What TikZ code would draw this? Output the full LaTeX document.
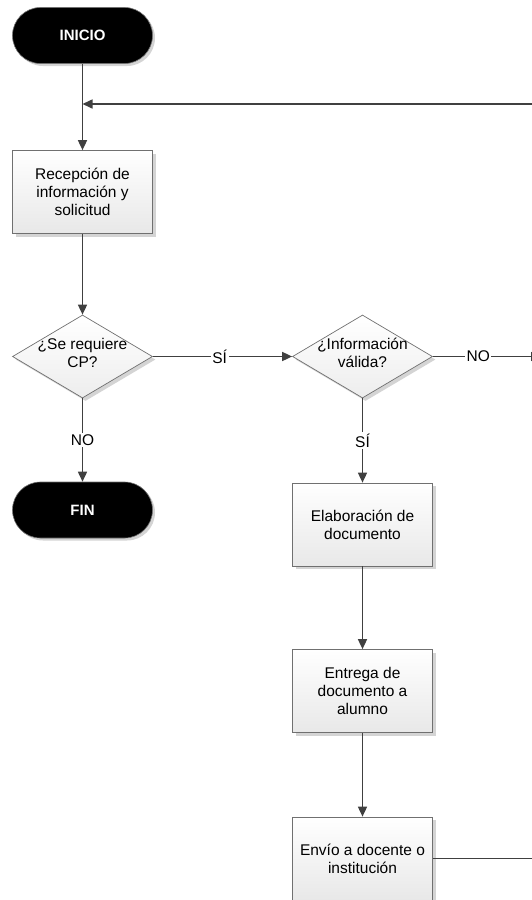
\documentclass[tikz,border=0pt]{standalone}
\usepackage{fontspec}
\setmainfont{Liberation Sans}
\usetikzlibrary{shapes.geometric,shadows,arrows.meta}
\definecolor{linegray}{HTML}{404040}
\definecolor{boxgray}{HTML}{707070}
\definecolor{shadowgray}{HTML}{D4D4D4}
\begin{document}
\begin{tikzpicture}[x=1pt,y=-1pt,
  txt/.style={font=\fontsize{15.5}{18}\selectfont},
  conn/.style={draw=linegray, line width=1.6pt, -{Triangle[length=10pt,width=9pt]}},
  plain/.style={draw=linegray, line width=1.6pt},
  term/.style={draw=boxgray, line width=0.6pt, fill=black, rounded corners=28pt,
    minimum width=140pt, minimum height=56pt, inner sep=0pt, text=white,
    font=\bfseries\fontsize{15}{18}\selectfont,
    drop shadow={shadow xshift=2.5pt, shadow yshift=-2.5pt, fill=shadowgray, opacity=1}},
  proc/.style={rectangle, draw=boxgray, line width=0.7pt, top color=white, bottom color=black!9,
    minimum width=140pt, minimum height=83pt, inner sep=0pt, align=center, txt,
    drop shadow={shadow xshift=3pt, shadow yshift=-3pt, fill=shadowgray, opacity=1}},
  dec/.style={diamond, draw=boxgray, line width=0.7pt, top color=white, bottom color=black!7,
    minimum width=140pt, minimum height=83pt, inner sep=0pt,
    drop shadow={shadow xshift=3pt, shadow yshift=-3pt, fill=shadowgray, opacity=1}},
  dectext/.style={align=center, txt, inner sep=0pt, yshift=4pt},
  lab/.style={fill=white, inner sep=1.5pt, txt}
]
\clip (0,0) rectangle (532,900);

\node[term] (start) at (82.5,35.5) {INICIO};
\node[proc] (rec) at (82.5,192) {Recepción de\\información y\\solicitud};
\node[dec, label={[dectext]center:¿Se requiere\\CP?}] (d1) at (82.5,356.5) {};
\node[term] (fin) at (82.5,510) {FIN};
\node[dec, label={[dectext]center:¿Información\\válida?}] (d2) at (362.5,356.5) {};
\node[proc] (ela) at (362.5,524.5) {Elaboración de\\documento};
\node[proc] (ent) at (362.5,691) {Entrega de\\documento a\\alumno};
\node[proc] (env) at (362.5,858.5) {Envío a docente o\\institución};

\coordinate (loopin) at (82.5,104);
\coordinate (loopR) at (545,104);
\coordinate (noR) at (541,356.5);
\coordinate (envR) at (545,858.5);

\draw[conn] (start) -- (rec);
\draw[conn] (loopR) -- (loopin);
\draw[conn] (rec) -- (d1);
\draw[conn] (d1) -- node[lab, pos=0.48]{SÍ} (d2);
\draw[conn] (d2) -- node[lab, pos=0.42]{NO} (noR);
\draw[conn] (d1) -- node[lab]{NO} (fin);
\draw[conn] (d2) -- node[lab]{SÍ} (ela);
\draw[conn] (ela) -- (ent);
\draw[conn] (ent) -- (env);
\draw[plain] (env) -- (envR);
\end{tikzpicture}
\end{document}
